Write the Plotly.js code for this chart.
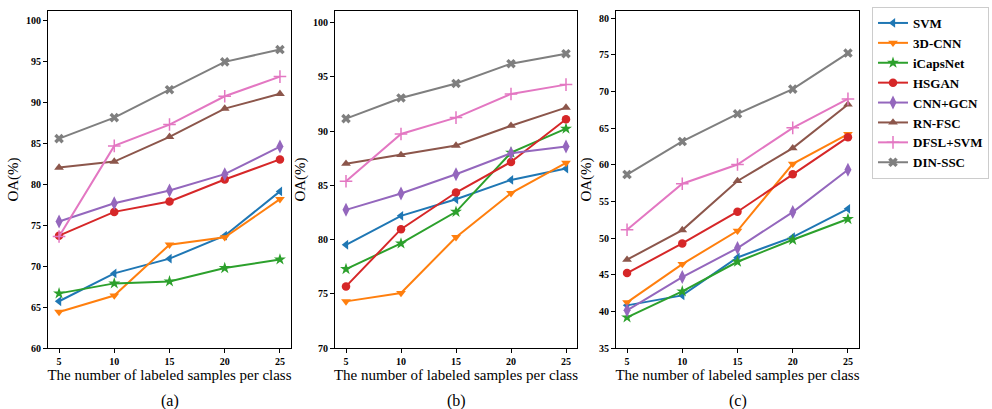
<!DOCTYPE html>
<html>
<head>
<meta charset="utf-8">
<script src="https://cdn.plot.ly/plotly-3.0.1.min.js"></script>
<style>html,body{margin:0;padding:0;background:#fff;}#chart{width:992px;height:409px;}</style>
</head>
<body>
<div id="chart"></div>
<script>
const samples = [5, 10, 15, 20, 25];
const methods = ["SVM", "3D-CNN", "iCapsNet", "HSGAN", "CNN+GCN", "RN-FSC", "DFSL+SVM", "DIN-SSC"];

// Panel (a)
const a_SVM      = [65.7, 69.1, 70.9, 73.7, 79.1];
const a_3DCNN    = [64.4, 66.4, 72.6, 73.5, 78.15];
const a_iCapsNet = [66.66, 67.88, 68.12, 69.75, 70.8];
const a_HSGAN    = [73.7, 76.6, 77.87, 80.55, 83.0];
const a_CNNGCN   = [75.43, 77.66, 79.2, 81.2, 84.57];
const a_RNFSC    = [82.0, 82.74, 85.75, 89.2, 91.0];
const a_DFSLSVM  = [73.6, 84.65, 87.25, 90.7, 93.1];
const a_DINSSC   = [85.54, 88.1, 91.5, 94.9, 96.4];

// Panel (b)
const b_SVM      = [79.52, 82.19, 83.72, 85.5, 86.55];
const b_3DCNN    = [74.3, 75.07, 80.22, 84.28, 87.07];
const b_iCapsNet = [77.28, 79.64, 82.56, 88.02, 90.23];
const b_HSGAN    = [75.68, 80.96, 84.34, 87.16, 91.09];
const b_CNNGCN   = [82.74, 84.25, 86.03, 87.96, 88.58];
const b_RNFSC    = [87.0, 87.8, 88.67, 90.5, 92.17];
const b_DFSLSVM  = [85.38, 89.74, 91.25, 93.43, 94.29];
const b_DINSSC   = [91.15, 93.06, 94.4, 96.22, 97.14];

// Panel (c)
const c_SVM      = [40.82, 42.18, 47.36, 50.14, 54.0];
const c_3DCNN    = [41.23, 46.45, 51.0, 60.14, 64.2];
const c_iCapsNet = [39.18, 42.73, 46.77, 49.77, 52.6];
const c_HSGAN    = [45.23, 49.27, 53.6, 58.73, 63.78];
const c_CNNGCN   = [40.14, 44.68, 48.64, 53.55, 59.32];
const c_RNFSC    = [47.05, 51.1, 57.8, 62.28, 68.24];
const c_DFSLSVM  = [51.14, 57.42, 60.05, 65.05, 69.0];
const c_DINSSC   = [58.68, 63.19, 66.97, 70.34, 75.26];

const xTicks = [5, 10, 15, 20, 25];
const yTicksA = [60, 65, 70, 75, 80, 85, 90, 95, 100];
const yTicksB = [70, 75, 80, 85, 90, 95, 100];
const yTicksC = [35, 40, 45, 50, 55, 60, 65, 70, 75, 80];
const panelLabels = ["(a)", "(b)", "(c)"];

const colors = ["#1f77b4", "#ff7f0e", "#2ca02c", "#d62728", "#9467bd", "#8c564b", "#e377c2", "#7f7f7f"];
const symbols = ["triangle-left", "triangle-down", "star", "circle", "diamond-tall", "triangle-up", "cross-thin-open", "x"];
const sizes = [8.5, 8.5, 9, 8.5, 10, 8.5, 9, 8.5];

const panels = [
  [a_SVM, a_3DCNN, a_iCapsNet, a_HSGAN, a_CNNGCN, a_RNFSC, a_DFSLSVM, a_DINSSC],
  [b_SVM, b_3DCNN, b_iCapsNet, b_HSGAN, b_CNNGCN, b_RNFSC, b_DFSLSVM, b_DINSSC],
  [c_SVM, c_3DCNN, c_iCapsNet, c_HSGAN, c_CNNGCN, c_RNFSC, c_DFSLSVM, c_DINSSC]
];

const traces = [];
panels.forEach((series, p) => {
  series.forEach((vals, i) => {
    traces.push({
      x: samples, y: vals, type: "scatter", mode: "lines+markers",
      name: methods[i],
      legendgroup: methods[i],
      showlegend: p === 0,
      xaxis: p === 0 ? "x" : "x" + (p + 1),
      yaxis: p === 0 ? "y" : "y" + (p + 1),
      line: {color: colors[i], width: 2},
      marker: {symbol: symbols[i], size: sizes[i], color: colors[i],
               line: {color: colors[i], width: symbols[i] === "cross-thin-open" ? 1.5 : 0}}
    });
  });
});

const W = 992, H = 409;
const serif = "Liberation Serif";
const tickFont = {family: serif, size: 10, color: "#000", weight: 700};
const titleFont = {family: serif, size: 15, color: "#000", weight: 400};
const yDom = [1 - 348 / H, 1 - 11 / H];

function xax(dom) {
  return {domain: dom, range: [4, 26], tickvals: xTicks, ticktext: xTicks.map(String),
    showline: true, mirror: true, linecolor: "#000", linewidth: 1, ticks: "outside", ticklen: 4,
    tickcolor: "#000", tickfont: tickFont, showgrid: false, zeroline: false,
    title: {text: "The number of labeled samples per class", font: titleFont, standoff: 1}, fixedrange: true};
}
function yax(range, tv, anchor) {
  return {domain: yDom, range: range, tickvals: tv, ticktext: tv.map(String), anchor: anchor,
    showline: true, mirror: true, linecolor: "#000", linewidth: 1, ticks: "outside", ticklen: 4,
    tickcolor: "#000", tickfont: tickFont, showgrid: false, zeroline: false,
    title: {text: "OA(%)", font: titleFont, standoff: 3}, fixedrange: true};
}

const xa = xax([48 / W, 291 / W]); xa.anchor = "y";
const xb = xax([335 / W, 577 / W]); xb.anchor = "y2";
const xc = xax([616 / W, 859 / W]); xc.anchor = "y3";

const annotations = panelLabels.map((t, k) => ({
  text: t, showarrow: false, xref: "paper", yref: "paper",
  x: [170 / W, 456 / W, 738 / W][k], y: 1 - 401 / H, xanchor: "center", yanchor: "middle",
  font: {family: serif, size: 16, color: "#000"}, borderpad: 0
}));

const layout = {
  width: W, height: H,
  margin: {l: 0, r: 0, t: 0, b: 0, pad: 0},
  paper_bgcolor: "#fff", plot_bgcolor: "#fff",
  xaxis: xa, xaxis2: xb, xaxis3: xc,
  yaxis: yax([60, 101.1], yTicksA, "x"),
  yaxis2: yax([70, 101.08], yTicksB, "x2"),
  yaxis3: yax([35, 81], yTicksC, "x3"),
  showlegend: true,
  legend: {x: 872 / W, y: 1 - 7 / H, xanchor: "left", yanchor: "top",
    bordercolor: "#cccccc", borderwidth: 1, bgcolor: "#fff",
    font: {family: serif, size: 13, color: "#000", weight: 700},
    tracegroupgap: 0, itemwidth: 30},
  annotations: annotations
};

Plotly.newPlot("chart", traces, layout, {displayModeBar: false, staticPlot: true});
</script>
</body>
</html>
